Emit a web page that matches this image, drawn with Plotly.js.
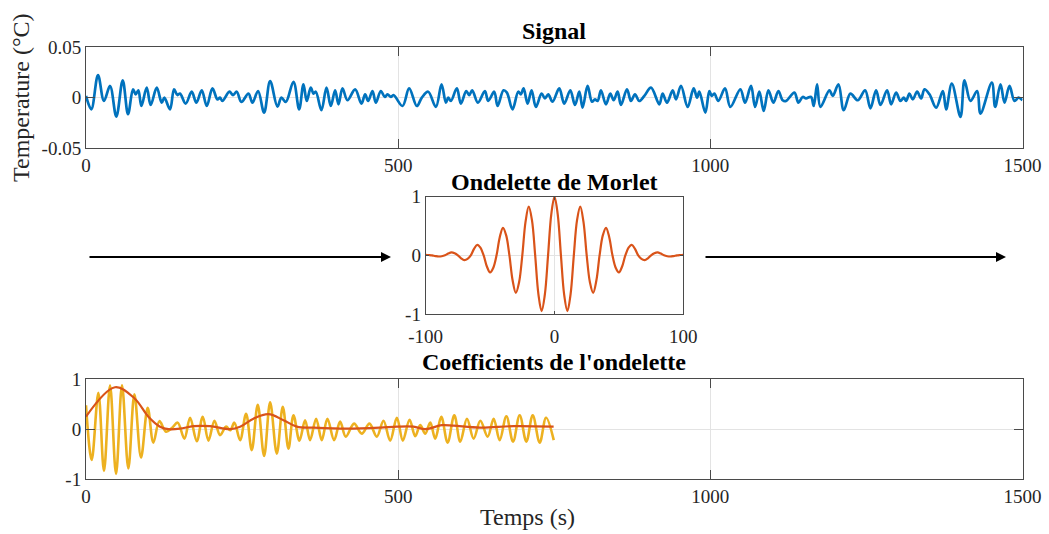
<!DOCTYPE html>
<html>
<head>
<meta charset="utf-8">
<script src="https://cdn.plot.ly/plotly-3.0.1.min.js"></script>
<style>html,body{margin:0;padding:0;background:#fff;}#chart{width:1049px;height:534px;}</style>
</head>
<body>
<div id="chart"></div>
<script>
// ---- Signal (temperature, °C) ----
const sigT = [0,8.5,19.2,28.8,38.5,48.6,58.8,67.3,75.3,79.6,83.9,88.7,97.2,103.6,113.3,121.3,125.5,134.6,141.0,146.4,150.6,159.7,169.3,176.8,185.4,193.4,202.5,210.5,214.7,218.5,229.7,235.6,241.5,248.9,260.2,266.6,275.6,285.3,294.9,
306.6,313.0,320.0,332.3,341.4,348.3,353.6,360.0,364.3,368.1,377.1,385.2,392.1,399.0,404.4,410.8,418.8,431.1,441.2,447.1,451.9,458.9,464.2,472.2,478.6,482.9,488.3,492.5,507.0,517.6,529.9,537.9,548.1,560.4,569.5,576.4,580.1,584.4,594.0,600.4,609.0,
613.8,618.6,627.7,638.9,644.2,653.9,659.2,668.8,674.2,683.2,692.3,696.6,700.9,707.3,713.7,720.6,729.7,735.1,740.4,747.3,758.0,766.0,775.7,783.2,790.1,795.4,803.4,810.4,815.2,819.5,824.8,832.8,839.8,845.1,851.5,856.9,866.5,872.9,879.3,886.2,894.3,905.0,
918.3,923.6,930.6,939.7,945.0,953.0,963.7,973.3,978.7,982.4,992.0,998.4,1002.2,1006.4,1012.8,1023.5,1032.1,1048.1,1055.6,1065.2,1071.6,1078.5,1085.5,1093.0,1101.0,1109.0,1115.9,1121.3,1134.6,1141.1,1148.0,1153.3,1161.3,1165.6,1171.0,1176.3,1190.7,1196.1,1205.2,1213.7,
1224.4,1236.1,1247.9,1256.4,1265.5,1272.5,1283.1,1289.6,1297.6,1304.5,1309.9,1313.6,1318.9,1324.3,1331.2,1337.6,1343.0,1351.0,1361.7,1372.4,1377.7,1386.8,1400.7,1407.1,1416.7,1427.4,1432.7,1450.9,1456.2,1464.8,1471.2,1479.2,1487.2,1493.6,1500];
const sigV = [0.0017,-0.0116,0.0224,-0.0033,0.0116,-0.0188,0.0172,-0.0165,0.0083,0.0033,0.0073,-0.0083,0.0099,-0.0073,0.0099,-0.005,0,-0.0116,0.0083,0.0026,0.004,-0.0059,0.0059,-0.005,0.0073,-0.0083,0.0092,-0.0017,0,-0.0033,0.0059,0.0026,0.0059,-0.0043,0.004,-0.005,0.0066,-0.0149,0.0165,
-0.0089,0,-0.0043,0.0158,-0.0116,0.0132,-0.0033,0.0099,0.004,0.0059,-0.0125,0.0099,-0.0083,0.0073,-0.0066,0.0092,-0.0026,0.0083,-0.0059,0.0033,-0.0033,0.0066,-0.005,0.0066,0.0007,0.0033,0.0007,0.0026,-0.0083,0.0092,-0.0083,0,0.0059,-0.0092,0.0132,-0.005,0,-0.0033,0.0092,-0.0059,0.0066,
0.0026,0.0073,-0.005,0.0066,-0.0033,0.0059,-0.0083,0.0073,0.005,-0.0116,0.0059,0.0033,0.0092,-0.0059,0.0073,-0.0092,0.004,-0.0007,0.0033,-0.004,0.0092,-0.0059,0.0073,-0.0073,0.0059,-0.0099,0.0116,-0.004,-0.0017,-0.0033,0.0073,-0.0066,0.004,-0.0026,0.0059,-0.0073,0.0083,-0.0033,0.0033,-0.0033,0.0017,0.0099,
-0.0066,0.004,-0.005,0.0073,-0.0017,0.0116,-0.0092,0.0092,0,0.0059,-0.0149,0.0066,0.0017,0.004,-0.0033,0.0092,-0.0092,0.0083,-0.005,0.0116,-0.0092,0.0059,-0.0132,0.0073,-0.005,0.0066,-0.0026,-0.0033,0.005,-0.005,0.0007,-0.0007,0.0007,-0.0083,0.0132,-0.0092,0.0073,0.0017,0.0132,-0.0125,
0.004,-0.0026,0.0073,-0.0106,0.0073,-0.0073,0.0073,-0.0066,0.005,-0.0033,0,-0.0033,0.004,-0.0017,0.0059,-0.0007,0.0083,0.0033,-0.0099,0.0066,-0.0116,0.0139,-0.0191,0.0172,-0.0033,0.0066,-0.0158,0.0149,-0.0092,0.0132,-0.005,0.0116,-0.0033,0,-0.0026];

// ---- Morlet wavelet ----
const morT = [-100,-97.5,-95,-92.5,-90,-87.5,-85,-82.5,-80,-77.5,-75,-72.5,-70,-67.5,-65,-62.5,-60,-57.5,-55,-52.5,-50,-47.5,-45,-42.5,-40,-37.5,-35,-32.5,-30,-27.5,-25,-22.5,-20,-17.5,-15,-12.5,-10,-7.5,-5,-2.5,
0,2.5,5,7.5,10,12.5,15,17.5,20,22.5,25,27.5,30,32.5,35,37.5,40,42.5,45,47.5,50,52.5,55,57.5,60,62.5,65,67.5,70,72.5,75,77.5,80,82.5,85,87.5,90,92.5,95,97.5,100];
const morV = [0.01,0.006,0,-0.012,-0.02,-0.015,0,0.03,0.05,0.035,0,-0.05,-0.08,-0.06,0,0.11,0.18,0.13,0,-0.19,-0.29,-0.21,0,0.31,0.47,0.34,0,-0.43,-0.64,-0.46,0,0.57,0.83,0.60,0,-0.66,-0.95,-0.67,0,0.70,
1.0,0.70,0,-0.67,-0.95,-0.66,0,0.60,0.83,0.57,0,-0.46,-0.64,-0.43,0,0.34,0.47,0.31,0,-0.21,-0.29,-0.19,0,0.13,0.18,0.11,0,-0.06,-0.08,-0.05,0,0.035,0.05,0.03,0,-0.015,-0.02,-0.012,0,0.006,0.01];

// ---- Wavelet coefficients (real part) ----
const coefT = [0,9.1,19.8,28.8,38.5,48.1,57.7,67.8,77.5,88.1,98.8,107.9,117.5,128.2,137.5,146.9,157.6,166.7,177.4,187.0,196.1,205.7,214.7,224.4,231.0,237.7,246.8,256.4,265.5,275.1,285.3,294.9,305.6,315.2,324.3,332.3,341.9,350.9,358.9,368.6,377.6,386.7,397.4,407.0,416.1,429.4,441.7,454.0,465.8,476.5,487.2,497.9,507.5,518.2,527.3,535.3,543.4,551.4,559.4,569.0,579.2,589.9,599.5,610.2,620.9,631.6,643.4,653.0,662.6,673.3,684.0,694.6,705.3,715.5,726.7,736.9,749.2];
const coefV = [0.48,-0.62,0.73,-0.84,0.88,-0.90,0.88,-0.79,0.70,-0.57,0.43,-0.27,0.16,-0.05,0.02,0.13,-0.19,0.23,-0.24,0.25,-0.23,0.17,-0.12,0.05,-0.02,0.13,-0.22,0.31,-0.42,0.49,-0.54,0.54,-0.49,0.45,-0.39,0.28,-0.23,0.18,-0.22,0.21,-0.22,0.21,-0.22,0.15,-0.15,0.11,-0.09,0.11,-0.15,0.17,-0.23,0.23,-0.23,0.19,-0.14,0.08,-0.09,0.13,-0.19,0.25,-0.27,0.28,-0.25,0.21,-0.19,0.17,-0.15,0.21,-0.22,0.26,-0.25,0.28,-0.25,0.28,-0.27,0.23,-0.22];

// ---- Wavelet coefficients (modulus) ----
const envT = [0,46.5,77.5,99.9,118.6,132,150.6,172,198.7,230.8,246.8,268.2,292.2,316.3,337.6,364.3,417.8,471.2,497.9,524.6,543.4,570.1,588.8,631.6,685,749];
const envV = [0.25,0.84,0.62,0.25,0.05,0.0,0.01,0.06,0.06,0.0,0.05,0.21,0.30,0.18,0.05,0.03,0.01,0.03,0.05,0.05,0.0,0.08,0.07,0.03,0.06,0.05];

// ---- Tick labels ----
const timeTicks = [0,500,1000,1500];
const timeTickText = ['0','500','1000','1500'];
const sigTicks = [-0.05,0,0.05];
const sigTickText = ['-0.05','0','0.05'];
const unitTicks = [-1,0,1];
const unitTickText = ['-1','0','1'];
const morTicks = [-100,0,100];
const morTickText = ['-100','0','100'];

const W = 1049, H = 534;
const px = v => v / W;
const py = v => 1 - v / H;

const FONT = 'Liberation Serif, Times New Roman, serif';
const tickFont = {family: FONT, size: 19, color: '#262626'};
const axBase = {
  showline: true, linecolor: '#4a4a4a', linewidth: 1, mirror: 'ticks',
  ticks: 'inside', tickcolor: '#4a4a4a', tickwidth: 1,
  showgrid: true, gridcolor: '#e3e3e3', gridwidth: 1,
  zeroline: false, tickfont: tickFont, fixedrange: true
};

const traces = [
  {x: sigT, y: sigV, type: 'scatter', mode: 'lines', line: {color: '#0072BD', width: 2.7, shape: 'spline', smoothing: 1}, xaxis: 'x', yaxis: 'y', hoverinfo: 'skip'},
  {x: morT, y: morV, type: 'scatter', mode: 'lines', line: {color: '#D95319', width: 2.2, shape: 'spline', smoothing: 1}, xaxis: 'x2', yaxis: 'y2', hoverinfo: 'skip'},
  {x: coefT, y: coefV, type: 'scatter', mode: 'lines', line: {color: '#EDB120', width: 2.6, shape: 'spline', smoothing: 1}, xaxis: 'x3', yaxis: 'y3', hoverinfo: 'skip'},
  {x: envT, y: envV, type: 'scatter', mode: 'lines', line: {color: '#D95319', width: 2.2, shape: 'spline', smoothing: 1}, xaxis: 'x3', yaxis: 'y3', hoverinfo: 'skip'}
];

const titleFont = {family: FONT, size: 24, color: '#000'};
const labelFont = {family: FONT, size: 24, color: '#262626'};

const layout = {
  width: W, height: H,
  margin: {l: 0, r: 0, t: 0, b: 0},
  paper_bgcolor: '#fff', plot_bgcolor: '#fff',
  showlegend: false,
  xaxis: Object.assign({}, axBase, {domain: [px(86), px(1022.5)], range: [0, 1500], tickvals: timeTicks, ticktext: timeTickText, ticklen: 9, anchor: 'y'}),
  yaxis: Object.assign({}, axBase, {domain: [py(148), py(47.3)], range: [-0.05, 0.05], tickvals: sigTicks, ticktext: sigTickText, ticklen: 9, anchor: 'x'}),
  xaxis2: Object.assign({}, axBase, {domain: [px(425.7), px(683.3)], range: [-100, 100], tickvals: morTicks, ticktext: morTickText, ticklen: 3, ticklabelstandoff: 5, anchor: 'y2'}),
  yaxis2: Object.assign({}, axBase, {domain: [py(314), py(196.7)], range: [-1, 1], tickvals: unitTicks, ticktext: unitTickText, ticklen: 3, anchor: 'x2'}),
  xaxis3: Object.assign({}, axBase, {domain: [px(86), px(1022.5)], range: [0, 1500], tickvals: timeTicks, ticktext: timeTickText, ticklen: 9, anchor: 'y3'}),
  yaxis3: Object.assign({}, axBase, {domain: [py(479), py(379.3)], range: [-1, 1], tickvals: unitTicks, ticktext: unitTickText, ticklen: 9, anchor: 'x3'}),
  annotations: [
    {text: '<b>Signal</b>', xref: 'paper', yref: 'paper', x: px(554), y: py(31), xanchor: 'center', yanchor: 'middle', showarrow: false, font: titleFont},
    {text: '<b>Ondelette de Morlet</b>', xref: 'paper', yref: 'paper', x: px(554.5), y: py(182), xanchor: 'center', yanchor: 'middle', showarrow: false, font: titleFont},
    {text: "<b>Coefficients de l'ondelette</b>", xref: 'paper', yref: 'paper', x: px(554), y: py(362), xanchor: 'center', yanchor: 'middle', showarrow: false, font: titleFont},
    {text: 'Temperature (°C)', xref: 'paper', yref: 'paper', x: px(21), y: py(98), xanchor: 'center', yanchor: 'middle', textangle: -90, showarrow: false, font: labelFont},
    {text: 'Temps (s)', xref: 'paper', yref: 'paper', x: px(527), y: py(517), xanchor: 'center', yanchor: 'middle', showarrow: false, font: labelFont},
    {text: '', xref: 'paper', yref: 'paper', x: px(391), y: py(257), ax: 88 - 391, ay: 0, showarrow: true, arrowhead: 2, arrowsize: 1, arrowwidth: 2, arrowcolor: '#000', standoff: 0, startstandoff: 0},
    {text: '', xref: 'paper', yref: 'paper', x: px(1006), y: py(257), ax: 704 - 1006, ay: 0, showarrow: true, arrowhead: 2, arrowsize: 1, arrowwidth: 2, arrowcolor: '#000', standoff: 0, startstandoff: 0}
  ]
};

Plotly.newPlot('chart', traces, layout, {staticPlot: true, displayModeBar: false});
</script>
</body>
</html>
